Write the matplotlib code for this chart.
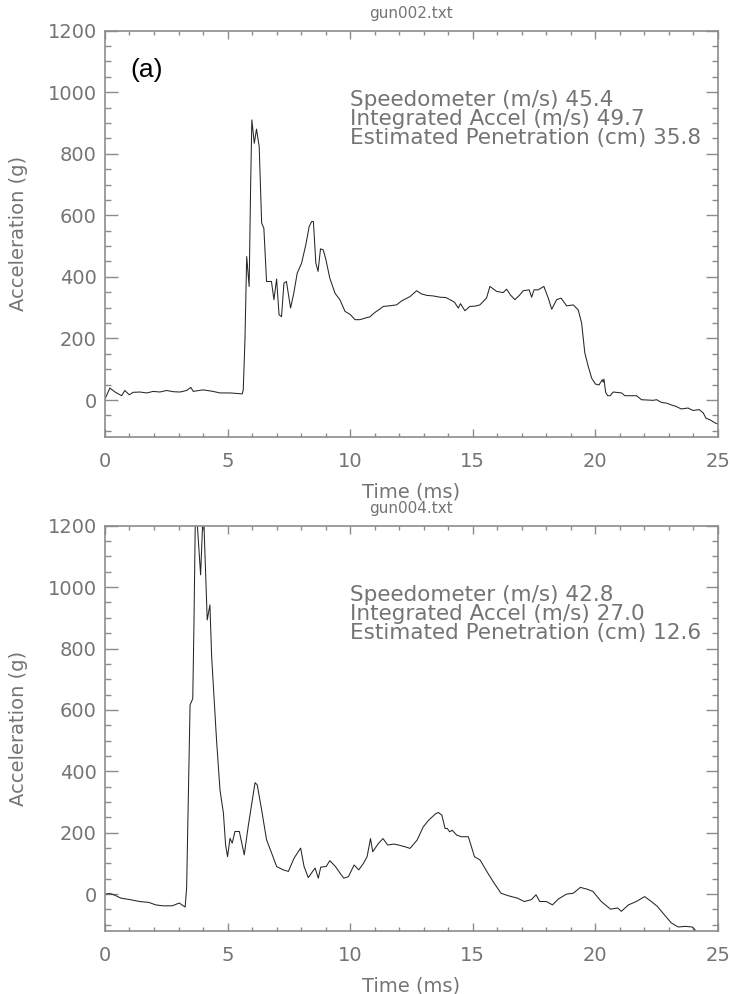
import numpy as np
import matplotlib
matplotlib.use("Agg")
import matplotlib.pyplot as plt
from matplotlib.ticker import MultipleLocator

# --- data (time in ms, acceleration in g) ---
t_gun002 = [0, 0.2, 0.41, 0.68, 0.81, 0.99, 1.15, 1.43, 1.7, 1.97, 2.24, 2.51, 2.79, 3.06,
            3.33, 3.5, 3.6, 4.0, 4.41, 4.69, 5.1, 5.6, 5.64, 5.71, 5.78, 5.88, 5.94, 5.99,
            6.09, 6.18, 6.29, 6.39, 6.48, 6.59, 6.79, 6.89, 7.0, 7.1, 7.2, 7.3, 7.4, 7.57,
            7.7, 7.84, 8.02, 8.19, 8.33, 8.43, 8.5, 8.6, 8.69, 8.79, 8.9, 9.01, 9.17, 9.38,
            9.58, 9.79, 10.0, 10.2, 10.4, 10.6, 10.8, 11.0, 11.2, 11.35, 11.6, 11.89, 12.1,
            12.44, 12.71, 12.9, 13.12, 13.4, 13.66, 13.9, 14.07, 14.25, 14.41, 14.5, 14.68,
            14.88, 15.1, 15.29, 15.45, 15.56, 15.7, 15.97, 16.24, 16.38, 16.55, 16.72, 16.9,
            17.06, 17.3, 17.4, 17.5, 17.67, 17.9, 18.08, 18.22, 18.42, 18.6, 18.83, 19.1,
            19.3, 19.44, 19.57, 19.71, 19.85, 20.0, 20.15, 20.28, 20.32, 20.35, 20.42, 20.5,
            20.6, 20.73, 21.07, 21.2, 21.68, 21.88, 22.35, 22.5, 22.7, 22.9, 23.1, 23.3,
            23.5, 23.78, 23.98, 24.23, 24.4, 24.51, 24.67, 24.9, 25.0]
a_gun002 = [3, 39, 26, 14, 31, 17, 25, 26, 23, 28, 26, 31, 27, 26,
            31, 41, 28, 33, 28, 23, 23, 20, 33, 198, 466, 369, 694, 910,
            834, 880, 823, 575, 558, 385, 385, 326, 393, 277, 271, 380, 385, 299,
            347, 412, 445, 504, 564, 580, 580, 445, 418, 491, 488, 456, 396, 347,
            326, 288, 278, 261, 261, 266, 270, 284, 295, 304, 306, 309, 322,
            336, 355, 345, 340, 338, 334, 333, 326, 318, 299, 313, 290,
            304, 305, 309, 322, 331, 369, 353, 349, 360, 340, 326, 340,
            355, 358, 334, 358, 358, 369, 331, 295, 326, 331, 306, 309,
            293, 250, 153, 109, 71, 52, 49, 66, 58, 68, 25, 14,
            14, 26, 23, 14, 14, 1, -1, 1, -8, -10, -16, -21,
            -29, -26, -34, -31, -42, -59, -64, -75, -78]

t_gun004 = [0, 0.2, 0.36, 0.65, 1.03, 1.41, 1.79, 2.07, 2.36, 2.74, 3.03, 3.27, 3.33, 3.47,
            3.58, 3.63, 3.695, 3.9, 4.01, 4.04, 4.17, 4.28, 4.35, 4.55, 4.69, 4.83, 4.92,
            5.0, 5.1, 5.19, 5.3, 5.48, 5.68, 5.84, 6.0, 6.12, 6.21, 6.39, 6.59, 6.8, 7.0,
            7.27, 7.48, 7.71, 7.98, 8.12, 8.29, 8.57, 8.7, 8.8, 9.02, 9.17, 9.4, 9.59, 9.74,
            9.93, 10.16, 10.35, 10.54, 10.69, 10.83, 10.92, 11.15, 11.34, 11.53, 11.78,
            11.97, 12.25, 12.44, 12.73, 12.98, 13.2, 13.49, 13.6, 13.74, 13.87, 13.96,
            14.06, 14.16, 14.35, 14.54, 14.82, 15.07, 15.3, 15.58, 15.87, 16.15, 16.44,
            16.82, 17.1, 17.39, 17.58, 17.73, 18.0, 18.25, 18.49, 18.82, 19.1, 19.39,
            19.67, 19.9, 20.24, 20.62, 20.91, 21.06, 21.35, 21.67, 22.01, 22.28, 22.53,
            22.81, 23.1, 23.38, 23.67, 23.95, 24.1]
a_gun004 = [0, 2, -2, -13, -18, -24, -27, -35, -38, -38, -29, -42, 20, 616,
            637, 883, 1290, 1040, 1260, 1197, 893, 942, 774, 502, 340, 264, 160,
            122, 182, 166, 204, 204, 128, 220, 302, 363, 356, 274, 177, 133, 90,
            79, 74, 117, 150, 90, 54, 85, 52, 88, 90, 109, 90, 68, 52,
            57, 95, 79, 100, 122, 181, 138, 165, 181, 160, 163,
            160, 154, 149, 176, 219, 241, 262, 266, 257, 214, 214,
            203, 208, 192, 187, 187, 122, 111, 73, 36, 3, -5,
            -13, -24, -18, -2, -24, -24, -35, -16, 0, 3, 22,
            16, 9, -24, -49, -45, -56, -35, -24, -8, -24, -40,
            -67, -94, -107, -105, -107, -119]

titles = ["gun002.txt", "gun004.txt"]
speedometer = [45.4, 42.8]
integrated = [49.7, 27.0]
penetration = [35.8, 12.6]

AX_GRAY = "#8c8c8c"
TXT_GRAY = "#747474"

fig = plt.figure(figsize=(7.30, 9.94), dpi=100)
ax_top = fig.add_axes([0.1438, 0.5604, 0.8397, 0.4088])
ax_bot = fig.add_axes([0.1438, 0.0634, 0.8397, 0.4077])

series = [(t_gun002, a_gun002), (t_gun004, a_gun004)]

for i, ax in enumerate([ax_top, ax_bot]):
    t, a = series[i]
    ax.plot(t, a, color="#262626", linewidth=0.75)
    ax.set_xlim(0, 25)
    ax.set_ylim(-120, 1200)

    # IDL-ish box with inward ticks on all sides
    for sp in ax.spines.values():
        sp.set_color(AX_GRAY)
        sp.set_linewidth(1.2)
    ax.xaxis.set_major_locator(MultipleLocator(5))
    ax.xaxis.set_minor_locator(MultipleLocator(1))
    ax.yaxis.set_major_locator(MultipleLocator(200))
    ax.yaxis.set_minor_locator(MultipleLocator(50))
    ax.tick_params(axis="x", which="major", direction="in", length=6, width=1,
                   color=AX_GRAY, top=True, labelsize=14, labelcolor=TXT_GRAY, pad=11)
    ax.tick_params(axis="x", which="minor", direction="in", length=3, width=1,
                   color=AX_GRAY, top=True)
    ax.tick_params(axis="y", which="major", direction="in", length=9, width=1,
                   color=AX_GRAY, right=True, labelsize=14, labelcolor=TXT_GRAY, pad=6)
    ax.tick_params(axis="y", which="minor", direction="in", length=4.5, width=1,
                   color=AX_GRAY, right=True)

    ax.set_xlabel("Time (ms)", fontsize=14, color=TXT_GRAY, labelpad=8)
    ax.set_ylabel("Acceleration (g)", fontsize=14, color=TXT_GRAY, labelpad=14)
    ax.set_title(titles[i], fontsize=11, color=TXT_GRAY, pad=9)

    lines = ["Speedometer (m/s) %.1f" % speedometer[i],
             "Integrated Accel (m/s) %.1f" % integrated[i],
             "Estimated Penetration (cm) %.1f" % penetration[i]]
    for k, s in enumerate(lines):
        ax.text(0.40, 0.829 - 0.0465 * k, s, transform=ax.transAxes,
                fontsize=15.5, color=TXT_GRAY, va="center", ha="left")

ax_top.text(0.041, 0.903, "(a)", transform=ax_top.transAxes, fontsize=19,
            family="Liberation Sans", color="black", va="center", ha="left")

fig.savefig("out.png", dpi=100)
